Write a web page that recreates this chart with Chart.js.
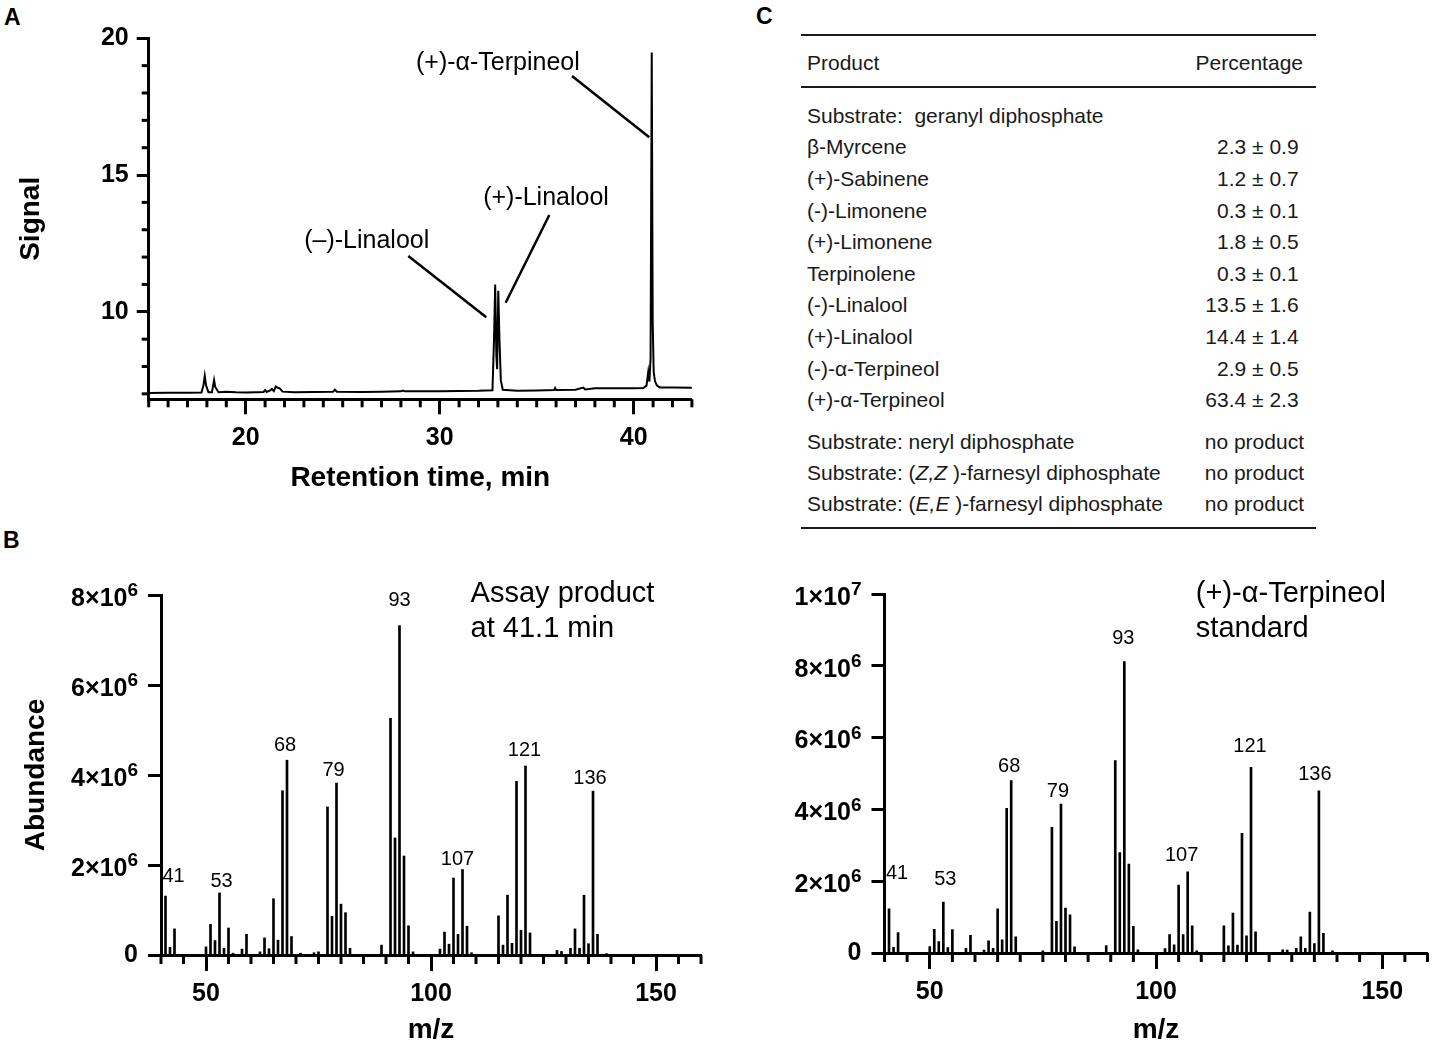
<!DOCTYPE html>
<html>
<head>
<meta charset="utf-8">
<script src="https://cdn.jsdelivr.net/npm/chart.js@4.4.1/dist/chart.umd.min.js"></script>
<style>
  html, body { margin: 0; padding: 0; background: #fff; }
  #fig { position: relative; width: 1432px; height: 1047px; overflow: hidden; color: #000; }
  canvas { position: absolute; }
  .letter { position: absolute; font: bold 23px 'Liberation Sans', Arial, sans-serif; line-height: 1; }
  .cell { position: absolute; font: 21px 'Liberation Sans', Arial, sans-serif; line-height: 21px; white-space: pre; color: #1a1a1a; }
  .rule { position: absolute; left: 801px; width: 515px; height: 2px; background: #1a1a1a; }
</style>
</head>
<body>
<div id="fig">
  <div class="letter" style="left:4px;top:6px">A</div>
  <div class="letter" style="left:3px;top:529px">B</div>
  <div class="letter" style="left:756px;top:5px">C</div>
  <canvas id="chromA" width="720" height="520" style="left:0;top:0"></canvas>
  <canvas id="specL" width="720" height="507" style="left:0;top:540px"></canvas>
  <canvas id="specR" width="712" height="507" style="left:720px;top:540px"></canvas>
</div>
<script>
// Panel A: chromatogram trace (retention time, min / signal)
const times = [15.0, 16.0, 17.0, 17.72, 17.82, 17.89, 17.96, 18.08, 18.26, 18.32,
  18.37, 18.43, 18.6, 19.0, 19.5, 20.0, 20.5, 20.92, 21.0, 21.08,
  21.25, 21.35, 21.45, 21.55, 21.65, 21.75, 21.9, 22.5, 23.5, 24.5,
  24.6, 24.7, 26.0, 27.0, 28.0, 28.1, 28.2, 30.0, 31.0, 32.0,
  32.72, 32.8, 32.86, 32.92, 32.96, 33.02, 33.08, 33.15, 33.25, 34.0,
  35.0, 35.9, 35.95, 36.0, 37.0, 37.4, 37.5, 38.0, 39.0, 40.0,
  40.5, 40.66, 40.75, 40.81, 40.87, 40.93, 40.98, 41.03, 41.1, 41.2,
  41.35, 42.0, 43.0];
const signal = [7.03, 7.04, 7.04, 7.05, 7.3, 7.66, 7.3, 7.06, 7.06, 7.3,
  7.5, 7.25, 7.06, 7.08, 7.06, 7.05, 7.06, 7.07, 7.14, 7.07,
  7.12, 7.18, 7.1, 7.27, 7.22, 7.2, 7.08, 7.06, 7.07, 7.08,
  7.15, 7.08, 7.07, 7.08, 7.09, 7.12, 7.09, 7.09, 7.1, 7.11,
  7.13, 9.0, 11.0, 8.4, 7.9, 10.77, 9.0, 7.5, 7.15, 7.11,
  7.12, 7.14, 7.21, 7.14, 7.15, 7.23, 7.16, 7.2, 7.2, 7.2,
  7.21, 7.3, 7.8, 7.45, 8.3, 19.48, 9.6, 7.8, 7.45, 7.3,
  7.23, 7.23, 7.22];
const timeTicks = [20, 30, 40];
const signalTicks = [10, 15, 20];

// Panel B: mass spectra, abundance in units of 1e6
const mzAssay = [41, 42, 43, 50, 51, 52, 53, 54, 55, 56, 58, 59, 62, 63, 64, 65, 66, 67, 68, 69,
  71, 74, 75, 77, 78, 79, 80, 81, 82, 89, 91, 92, 93, 94, 95, 96,
  102, 103, 104, 105, 106, 107, 108, 109, 115, 116, 117, 118, 119, 120, 121, 122,
  128, 129, 131, 132, 133, 134, 135, 136, 137, 139];
const abundAssay = [1.31, 0.17, 0.58, 0.18, 0.68, 0.32, 1.38, 0.15, 0.60, 0.04, 0.13, 0.46, 0.07, 0.38, 0.14, 1.25, 0.33, 3.65, 4.33, 0.41,
  0.04, 0.05, 0.07, 3.29, 0.86, 3.82, 1.13, 0.94, 0.15, 0.22, 5.26, 2.60, 7.32, 2.20, 0.65, 0.07,
  0.13, 0.51, 0.24, 1.71, 0.46, 1.90, 0.64, 0.05, 0.87, 0.22, 1.33, 0.26, 3.86, 0.55, 4.20, 0.49,
  0.10, 0.08, 0.15, 0.58, 0.15, 1.33, 0.25, 3.64, 0.46, 0.03];
const mzStd = [41, 42, 43, 50, 51, 52, 53, 54, 55, 58, 59, 62, 63, 64, 65, 66, 67, 68, 69,
  75, 77, 78, 79, 80, 81, 82, 89, 91, 92, 93, 94, 95, 96,
  102, 103, 104, 105, 106, 107, 108, 109, 115, 116, 117, 118, 119, 120, 121, 122,
  128, 129, 131, 132, 133, 134, 135, 136, 137, 139];
const abundStd = [1.23, 0.16, 0.57, 0.18, 0.66, 0.32, 1.42, 0.15, 0.65, 0.13, 0.49, 0.08, 0.34, 0.13, 1.23, 0.37, 4.03, 4.80, 0.45,
  0.06, 3.50, 0.88, 4.15, 1.25, 1.06, 0.17, 0.21, 5.36, 2.80, 8.12, 2.48, 0.74, 0.09,
  0.12, 0.51, 0.23, 1.89, 0.51, 2.26, 0.76, 0.06, 0.76, 0.20, 1.11, 0.22, 3.33, 0.48, 5.17, 0.59,
  0.09, 0.08, 0.13, 0.45, 0.13, 1.14, 0.26, 4.52, 0.55, 0.06];
const labelledPeaks = [41, 53, 68, 79, 93, 107, 121, 136];
const mzTicks = [50, 100, 150];
const abundTicksAssay = [0, 2, 4, 6, 8];
const abundTicksStd = [0, 2, 4, 6, 8, 10];

// Panel C: product table
const products = ['β-Myrcene', '(+)-Sabinene', '(-)-Limonene', '(+)-Limonene', 'Terpinolene',
  '(-)-Linalool', '(+)-Linalool', '(-)-α-Terpineol', '(+)-α-Terpineol'];
const pctMean = ['2.3', '1.2', '0.3', '1.8', '0.3', '13.5', '14.4', '2.9', '63.4'];
const pctSd = ['0.9', '0.7', '0.1', '0.5', '0.1', '1.6', '1.4', '0.5', '2.3'];
const otherSubstrates = ['neryl diphosphate', '(<i>Z,Z</i> )-farnesyl diphosphate', '(<i>E,E</i> )-farnesyl diphosphate'];

const SANS = "'Liberation Sans', Arial, sans-serif";
Chart.defaults.font.family = SANS;
Chart.defaults.color = '#000';
Chart.defaults.animation = false;

// minor ticks, leader lines, notes, peak labels and 10^n tick labels, all placed through the scales
const decor = {
  id: 'decor',
  afterDraw(chart, args, o) {
    const ctx = chart.ctx;
    const xs = chart.scales.x, ys = chart.scales.y;
    ctx.save();
    ctx.strokeStyle = '#000';
    ctx.fillStyle = '#000';
    ctx.lineWidth = 3;
    (o.minor || []).forEach(m => {
      const s = chart.scales[m.axis];
      for (let k = 0; m.from + k * m.step <= m.to + 1e-9; k++) {
        const v = m.from + k * m.step;
        if (m.skip.includes(v)) continue;
        const p = s.getPixelForValue(v);
        ctx.beginPath();
        if (m.axis === 'x') { ctx.moveTo(p, s.top); ctx.lineTo(p, s.top + m.len); }
        else { ctx.moveTo(s.right, p); ctx.lineTo(s.right - m.len, p); }
        ctx.stroke();
      }
    });
    ctx.lineWidth = 2.5;
    (o.lines || []).forEach(l => {
      ctx.beginPath();
      ctx.moveTo(xs.getPixelForValue(l[0]), ys.getPixelForValue(l[1]));
      ctx.lineTo(xs.getPixelForValue(l[2]), ys.getPixelForValue(l[3]));
      ctx.stroke();
    });
    (o.notes || []).forEach(n => {
      ctx.font = n.font;
      ctx.textAlign = n.align;
      ctx.textBaseline = 'alphabetic';
      ctx.fillText(n.text, xs.getPixelForValue(n.x), ys.getPixelForValue(n.y));
    });
    if (o.peaks) {
      const meta = chart.getDatasetMeta(0);
      ctx.font = '20px ' + SANS;
      ctx.textAlign = 'center';
      ctx.textBaseline = 'middle';
      o.peaks.offsets.forEach((off, j) => {
        const mz = labelledPeaks[j];
        const el = meta.data[o.peaks.mz.indexOf(mz)];
        ctx.fillText(String(mz), el.x + off[0], el.y + off[1]);
      });
    }
    if (o.sci) {
      const right = ys.right - o.sci.gap;
      ctx.textBaseline = 'middle';
      ctx.textAlign = 'left';
      ys.ticks.forEach(t => {
        if (t.value === 0) return;
        const p = ys.getPixelForValue(t.value);
        const exp = t.value >= 10 ? '7' : '6';
        const man = (t.value >= 10 ? t.value / 10 : t.value) + '×10';
        ctx.font = 'bold 25px ' + SANS;
        const wMan = ctx.measureText(man).width;
        ctx.font = 'bold 19px ' + SANS;
        const wExp = ctx.measureText(exp).width;
        ctx.fillText(exp, right - wExp, p - 4);
        ctx.font = 'bold 25px ' + SANS;
        ctx.fillText(man, right - wExp - wMan, p + 4);
      });
    }
    ctx.restore();
  }
};

function axis(extra) {
  return Object.assign({
    type: 'linear',
    border: { display: true, width: 3, color: '#000' }
  }, extra);
}

const tickFont = { size: 25, weight: 'bold' };
const titleFont = { size: 28, weight: 'bold' };

// Panel A
new Chart(document.getElementById('chromA'), {
  type: 'line',
  data: {
    datasets: [{
      data: times.map((t, i) => ({ x: t, y: signal[i] })),
      borderColor: '#000', borderWidth: 2, pointRadius: 0, tension: 0, fill: false
    }]
  },
  options: {
    responsive: false,
    layout: { padding: { left: 0, top: 38.3, right: 28.1, bottom: 0 } },
    plugins: {
      legend: { display: false }, tooltip: { enabled: false },
      decor: {
        minor: [
          { axis: 'x', from: 15, to: 43, step: 1, len: 8, skip: timeTicks },
          { axis: 'y', from: 7, to: 19, step: 1, len: 7, skip: signalTicks }
        ],
        lines: [
          [36.82, 18.62, 40.80, 16.38],
          [35.65, 13.54, 33.40, 10.33],
          [28.38, 12.04, 32.40, 9.80]
        ],
        notes: [
          { text: '(+)-α-Terpineol', x: 33.0, y: 18.84, align: 'center', font: '25px ' + SANS },
          { text: '(+)-Linalool', x: 35.48, y: 13.90, align: 'center', font: '25px ' + SANS },
          { text: '(–)-Linalool', x: 26.24, y: 12.34, align: 'center', font: '25px ' + SANS }
        ]
      }
    },
    scales: {
      x: axis({
        min: 15, max: 43,
        afterBuildTicks: s => { s.ticks = timeTicks.map(v => ({ value: v })); },
        afterFit: s => { s.height = 120.7; },
        grid: { drawOnChartArea: false, tickLength: 15, tickWidth: 3, tickColor: '#000' },
        ticks: { font: tickFont, padding: 9, maxRotation: 0, autoSkip: false },
        title: { display: true, text: 'Retention time, min', font: titleFont, padding: { top: 0, bottom: 24.9 } }
      }),
      y: axis({
        min: 6.8, max: 20,
        afterBuildTicks: s => { s.ticks = signalTicks.map(v => ({ value: v })); },
        afterFit: s => { s.width = 148.7; },
        grid: { drawOnChartArea: false, tickLength: 12, tickWidth: 3, tickColor: '#000' },
        ticks: { font: tickFont, padding: 8, autoSkip: false },
        title: { display: true, text: 'Signal', font: titleFont, padding: { top: 14.5, bottom: 0 } }
      })
    }
  },
  plugins: [decor]
});

// Panel B spectra
function spectrum(id, mz, abund, yTicks, opt) {
  new Chart(document.getElementById(id), {
    type: 'bar',
    data: {
      datasets: [{
        data: mz.map((m, i) => ({ x: m, y: abund[i] })),
        backgroundColor: '#000', borderWidth: 0, barThickness: 2
      }]
    },
    options: {
      responsive: false,
      layout: { padding: { left: 0, top: opt.top, right: opt.right, bottom: 0 } },
      plugins: {
        legend: { display: false }, tooltip: { enabled: false },
        decor: {
          minor: [{ axis: 'x', from: 40, to: 160, step: 5, len: 9, skip: mzTicks }],
          notes: opt.notes,
          peaks: { mz: mz, offsets: opt.peakOffsets },
          sci: { gap: 23 }
        }
      },
      scales: {
        x: axis({
          min: 40, max: 160, offset: false,
          afterBuildTicks: s => { s.ticks = mzTicks.map(v => ({ value: v })); },
          afterFit: s => { s.height = opt.xHeight; },
          grid: { drawOnChartArea: false, tickLength: 16, tickWidth: 3, tickColor: '#000', offset: false },
          ticks: { font: tickFont, padding: 8, maxRotation: 0, autoSkip: false },
          title: { display: true, text: 'm/z', font: titleFont, padding: { top: 0, bottom: 0 } }
        }),
        y: axis({
          min: 0, max: yTicks[yTicks.length - 1],
          afterBuildTicks: s => { s.ticks = yTicks.map(v => ({ value: v })); },
          afterFit: s => { s.width = opt.yWidth; },
          grid: { drawOnChartArea: false, tickLength: 13, tickWidth: 3, tickColor: '#000' },
          ticks: { font: tickFont, padding: 10, autoSkip: false, callback: v => v === 0 ? '0' : '' },
          title: { display: opt.yTitle, text: 'Abundance', font: titleFont, padding: { top: 19.5, bottom: 0 } }
        })
      }
    },
    plugins: [decor]
  });
}

const noteFont = '29px ' + SANS;
spectrum('specL', mzAssay, abundAssay, abundTicksAssay, {
  top: 55, right: 19, yWidth: 161, xHeight: 92, yTitle: true,
  notes: [
    { text: 'Assay product', x: 108.8, y: 7.85, align: 'left', font: noteFont },
    { text: 'at 41.1 min', x: 108.8, y: 7.06, align: 'left', font: noteFont }
  ],
  peakOffsets: [[8, -20], [2, -11], [-2, -15], [-3, -13], [0, -25], [-5, -10], [-1, -16], [-3, -13]]
});
spectrum('specR', mzStd, abundStd, abundTicksStd, {
  top: 54, right: 4.5, yWidth: 164.5, xHeight: 94, yTitle: false,
  notes: [
    { text: '(+)-α-Terpineol', x: 108.8, y: 9.79, align: 'left', font: noteFont },
    { text: 'standard', x: 108.8, y: 8.79, align: 'left', font: noteFont }
  ],
  peakOffsets: [[8, -35], [2, -23], [-2, -14], [-3, -13], [-1, -23], [-6, -16], [-1, -21], [-4, -16]]
});

// Panel C table
const fig = document.getElementById('fig');
function cell(html, centerY, left, right) {
  const d = document.createElement('div');
  d.className = 'cell';
  d.innerHTML = html;
  d.style.top = (centerY - 10.2) + 'px';
  if (left != null) d.style.left = left + 'px';
  if (right != null) d.style.right = (1432 - right) + 'px';
  fig.appendChild(d);
}
function rule(y) {
  const r = document.createElement('div');
  r.className = 'rule';
  r.style.top = (y - 1) + 'px';
  fig.appendChild(r);
}
rule(35); rule(87.3); rule(527.7);
cell('Product', 62.5, 807);
cell('Percentage', 62.5, null, 1303);
cell('Substrate:  geranyl diphosphate', 115, 807);
products.forEach((p, i) => {
  const y = 115 + (i + 1) * 31.6;
  cell(p, y, 807);
  cell(pctMean[i] + ' ± ' + pctSd[i], y, null, 1298.6);
});
otherSubstrates.forEach((s, j) => {
  const y = 441.5 + j * 31;
  cell('Substrate: ' + s, y, 807);
  cell('no product', y, null, 1304);
});
</script>
</body>
</html>
